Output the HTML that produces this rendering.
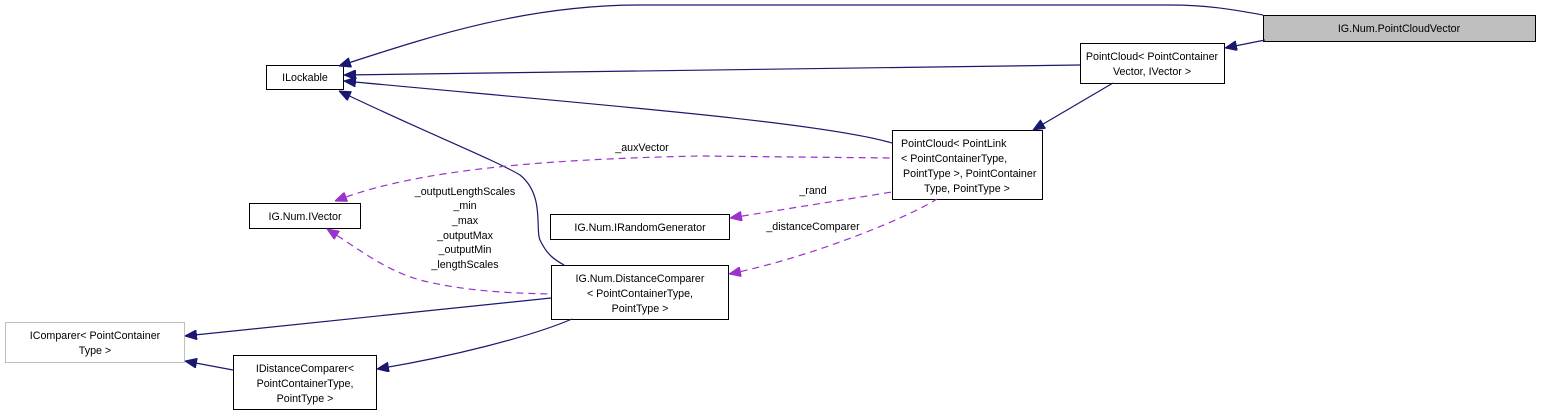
<!DOCTYPE html>
<html><head><meta charset="utf-8"><style>
html,body{margin:0;padding:0;background:#fff;}
svg{display:block;}
text{font-family:"Liberation Sans",sans-serif;font-size:10.7px;fill:#000;}
</style></head><body>
<svg width="1541" height="416" viewBox="0 0 1541 416" xmlns="http://www.w3.org/2000/svg">
<defs>
<marker id="n" markerWidth="12" markerHeight="10" refX="0" refY="5" orient="auto" markerUnits="userSpaceOnUse"><path d="M0,5 L12,0 L12,10 Z" fill="#191970" stroke="#191970"/></marker>
<marker id="p" markerWidth="12" markerHeight="10" refX="0" refY="5" orient="auto" markerUnits="userSpaceOnUse"><path d="M0,5 L12,0 L12,10 Z" fill="#9a32cd" stroke="#9a32cd"/></marker>
</defs>
<g stroke-width="1" fill="#fff">
<rect x="1263.5" y="15.5" width="272" height="26" fill="#bfbfbf" stroke="#000"/>
<rect x="1080.5" y="43.5" width="144" height="40" stroke="#000"/>
<rect x="892.5" y="130.5" width="150" height="69" stroke="#000"/>
<rect x="266.5" y="65.5" width="77" height="24" stroke="#000"/>
<rect x="249.5" y="203.5" width="111" height="25" stroke="#000"/>
<rect x="550.5" y="214.5" width="179" height="25" stroke="#000"/>
<rect x="551.5" y="265.5" width="177" height="54" stroke="#000"/>
<rect x="233.5" y="355.5" width="143" height="54" stroke="#000"/>
<rect x="5.5" y="322.5" width="179" height="40" stroke="#bfbfbf"/>
</g>
<g fill="none" stroke="#191970" stroke-width="1.2">
<path d="M339,66 C420,40 520,5 640,5 L1170,5 C1215,5 1245,12 1263,15" marker-start="url(#n)"/>
<path d="M1225,48 L1265,40" marker-start="url(#n)"/>
<path d="M344,75 L1080,65" marker-start="url(#n)"/>
<path d="M344,81 C600,105 820,122 892,143" marker-start="url(#n)"/>
<path d="M1033,130 L1113,83" marker-start="url(#n)"/>
<path d="M339,91 C420,130 495,160 520,175 C545,195 535,230 540,240 C547,255 555,260 564,265" marker-start="url(#n)"/>
<path d="M185,336 L551,298" marker-start="url(#n)"/>
<path d="M377,369 C450,357 530,337 572,319" marker-start="url(#n)"/>
<path d="M185,361 L233,370" marker-start="url(#n)"/>
</g>
<g fill="none" stroke="#9a32cd" stroke-width="1.2" stroke-dasharray="7,5">
<path d="M335,201 C400,176 500,160 700,156 L892,158" marker-start="url(#p)"/>
<path d="M327,229 C360,250 385,270 420,280 C460,290 500,293 551,294" marker-start="url(#p)"/>
<path d="M730,218 L892,192" marker-start="url(#p)"/>
<path d="M729,274 C800,260 900,222 937,199" marker-start="url(#p)"/>
</g>
<g text-anchor="middle">
<text x="1399" y="32">IG.Num.PointCloudVector</text>
<text x="1152" y="60">PointCloud&lt; PointContainer</text>
<text x="1152" y="75">Vector, IVector &gt;</text>
<text x="305" y="81">ILockable</text>
<text x="305" y="220">IG.Num.IVector</text>
<text x="640" y="231">IG.Num.IRandomGenerator</text>
<text x="640" y="282">IG.Num.DistanceComparer</text>
<text x="640" y="297">&lt; PointContainerType,</text>
<text x="640" y="312">PointType &gt;</text>
<text x="305" y="372">IDistanceComparer&lt;</text>
<text x="305" y="387">PointContainerType,</text>
<text x="305" y="402">PointType &gt;</text>
<text x="95" y="339">IComparer&lt; PointContainer</text>
<text x="95" y="354">Type &gt;</text>
<text x="642" y="151">_auxVector</text>
<text x="465" y="195">_outputLengthScales</text>
<text x="465" y="209">_min</text>
<text x="465" y="224">_max</text>
<text x="465" y="239">_outputMax</text>
<text x="465" y="253">_outputMin</text>
<text x="465" y="268">_lengthScales</text>
<text x="813" y="194">_rand</text>
<text x="813" y="230">_distanceComparer</text>
</g>
<g>
<text x="901" y="147">PointCloud&lt; PointLink</text>
<text x="901" y="162">&lt; PointContainerType,</text>
<text x="903" y="177">PointType &gt;, PointContainer</text>
<text x="924" y="192">Type, PointType &gt;</text>
</g>
</svg>
</body></html>
